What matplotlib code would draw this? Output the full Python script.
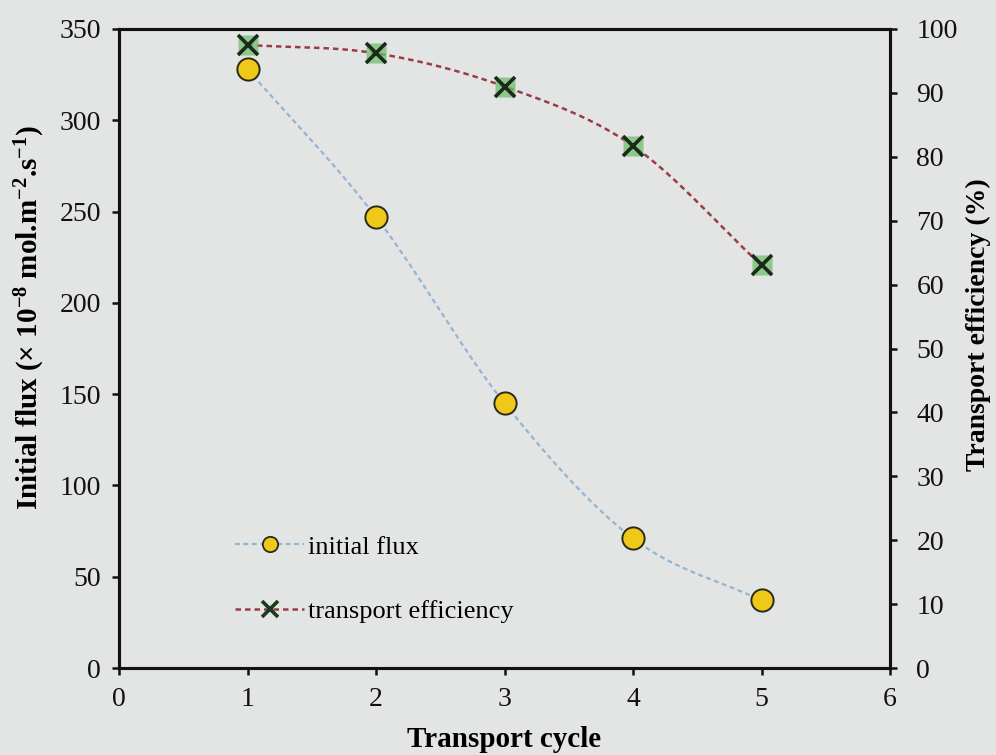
import numpy as np
import matplotlib
matplotlib.use("Agg")
import matplotlib.pyplot as plt
from matplotlib.lines import Line2D

# Data
cycles = [1, 2, 3, 4, 5]
initial_flux = [328, 247, 145, 71, 37]
transport_efficiency = [97.5, 96.2, 91.0, 81.7, 63.0]

x_ticks = [0, 1, 2, 3, 4, 5, 6]
flux_ticks = [0, 50, 100, 150, 200, 250, 300, 350]
eff_ticks = [0, 10, 20, 30, 40, 50, 60, 70, 80, 90, 100]

plt.rcParams['font.family'] = ['Liberation Serif', 'DejaVu Serif']
plt.rcParams['mathtext.fontset'] = 'custom'
plt.rcParams['mathtext.rm'] = 'Liberation Serif'
plt.rcParams['mathtext.bf'] = 'Liberation Serif:bold'
plt.rcParams['mathtext.default'] = 'bf'

BG = '#e3e5e5'
FLUX_LINE = '#93b4d2'
EFF_LINE = '#9a3c46'
YELLOW = '#f0c81a'
GREEN = '#6fbf6a'


def smooth_curve(x, y, steps=40, tension=0.5):
    """Cardinal spline through the given points (smoothed-line style)."""
    x = np.asarray(x, float)
    y = np.asarray(y, float)
    px = np.concatenate([[2 * x[0] - x[1]], x, [2 * x[-1] - x[-2]]])
    py = np.concatenate([[2 * y[0] - y[1]], y, [2 * y[-1] - y[-2]]])
    xs, ys = [], []
    t = np.linspace(0, 1, steps)
    for i in range(1, len(px) - 2):
        m0x = tension * (px[i + 1] - px[i - 1])
        m1x = tension * (px[i + 2] - px[i])
        m0y = tension * (py[i + 1] - py[i - 1])
        m1y = tension * (py[i + 2] - py[i])
        h00 = 2 * t**3 - 3 * t**2 + 1
        h10 = t**3 - 2 * t**2 + t
        h01 = -2 * t**3 + 3 * t**2
        h11 = t**3 - t**2
        xs.append(h00 * px[i] + h10 * m0x + h01 * px[i + 1] + h11 * m1x)
        ys.append(h00 * py[i] + h10 * m0y + h01 * py[i + 1] + h11 * m1y)
    return np.concatenate(xs), np.concatenate(ys)


fig = plt.figure(figsize=(9.96, 7.55), dpi=100, facecolor=BG)
ax = fig.add_axes([0.1195, 0.1152, 0.7741, 0.8464])
ax.set_facecolor(BG)
ax2 = ax.twinx()

# Initial flux (left axis)
sx, sy = smooth_curve(cycles, initial_flux)
ax.plot(sx, sy, color=FLUX_LINE, lw=1.6, ls=(0, (2.2, 1.6)), zorder=2)
ax.plot(cycles, initial_flux, ls='none', marker='o', ms=16,
        mfc=YELLOW, mec='#2a2a1a', mew=1.4, zorder=3)

# Transport efficiency (right axis)
ex, ey = smooth_curve(cycles, transport_efficiency)
ax2.plot(ex, ey, color=EFF_LINE, lw=1.8, ls=(0, (2.2, 1.6)), zorder=2)
ax2.plot(cycles, transport_efficiency, ls='none', marker='s', ms=15,
         mfc=GREEN, mec='none', alpha=0.75, zorder=3)
ax2.plot(cycles, transport_efficiency, ls='none', marker='x', ms=15,
         mec='#1c2a1c', mew=2.6, zorder=4)

ax.set_xlim(0, 6)
ax.set_ylim(0, 350)
ax2.set_ylim(0, 100)
ax.set_xticks(x_ticks)
ax.set_yticks(flux_ticks)
ax2.set_yticks(eff_ticks)

for a in (ax, ax2):
    for sp in a.spines.values():
        sp.set_linewidth(2.2)
        sp.set_color('#111111')
ax.tick_params(axis='both', direction='out', length=5, width=1.8,
               labelsize=20, colors='#111111', pad=8)
ax.tick_params(axis='x', pad=9)
ax2.tick_params(axis='y', direction='out', length=5, width=1.8,
                labelsize=20, colors='#111111', pad=14)

ax.set_xlabel('Transport cycle', fontsize=21, fontweight='bold', labelpad=10)
ax.set_ylabel('Initial flux (× 10$^{-8}$ mol.m$^{-2}$.s$^{-1}$)',
              fontsize=21, fontweight='bold')
ax.yaxis.set_label_coords(-0.094, 0.548)
ax2.set_ylabel('Transport efficiency (%)', fontsize=20, fontweight='bold')
ax2.yaxis.set_label_coords(1.098, 0.537)

handles = [
    Line2D([], [], color=FLUX_LINE, lw=1.6, ls=(0, (2.2, 1.6)), marker='o',
           ms=11, mfc=YELLOW, mec='#2a2a1a', mew=1.3),
    Line2D([], [], color=EFF_LINE, lw=1.8, ls=(0, (2.2, 1.6)), marker='x',
           ms=11, mec='#1c3a1c', mew=2.6),
]
leg = ax.legend(handles, ['initial flux', 'transport efficiency'],
                loc='upper left', bbox_to_anchor=(0.12, 0.245),
                frameon=False, fontsize=19, labelspacing=1.55,
                handlelength=2.6, handletextpad=0.15)

fig.savefig('out.png', dpi=100, facecolor=BG)
